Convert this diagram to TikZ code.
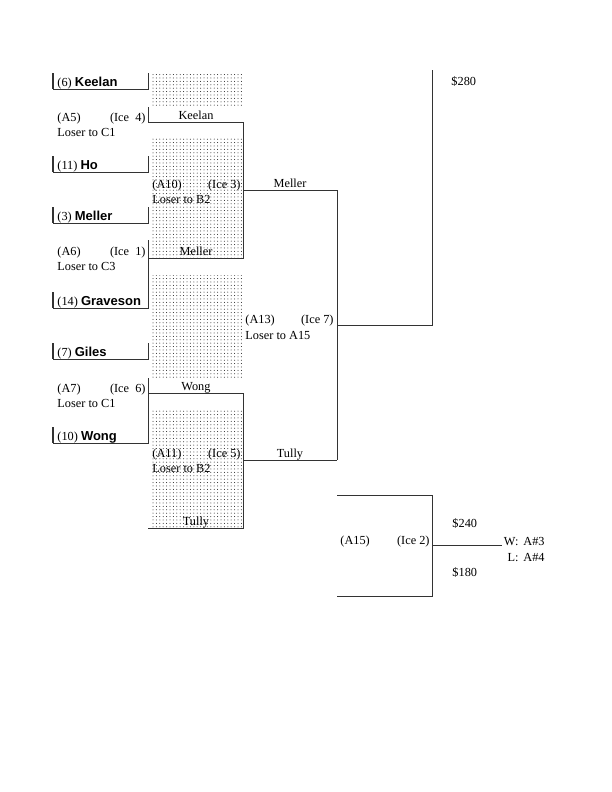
\documentclass[tikz,border=0pt]{standalone}
\usepackage{fontspec}
\setmainfont{Liberation Serif}
\newfontfamily\namefont{Liberation Sans}
\usetikzlibrary{patterns}

% sparse dot stipple
\pgfdeclarepatternformonly{stipple}{\pgfqpoint{-1pt}{-1pt}}{\pgfqpoint{1pt}{1pt}}{\pgfqpoint{3.4pt}{3.4pt}}{%
  \pgfpathcircle{\pgfqpoint{0pt}{0pt}}{0.5pt}\pgfusepath{fill}}

\begin{document}
\begin{tikzpicture}[x=1pt, y=-1pt, font=\fontsize{12.3}{14}\selectfont,
    line width=0.9pt, black!80,
    lab/.style={anchor=base west, inner sep=0pt, text=black},
    labr/.style={anchor=base east, inner sep=0pt, text=black},
    labc/.style={anchor=base, inner sep=0pt, text=black}]
  \useasboundingbox (0,0) rectangle (612,792);
  % stippled areas
  \foreach \t/\b in {73/107, 138/258, 275/379, 409/527}
    \fill[pattern=stipple, pattern color=black!90] (151,\t) rectangle (242,\b);
  % first round slots
  \foreach \y/\s/\n in {89/6/Keelan, 172/11/Ho, 223/3/Meller, 308/14/Graveson, 359/7/Giles, 443/10/Wong} {
    \draw[line width=1.3pt] (53,\y-16) -- (53,\y);
    \draw (53,\y) -- (148,\y) -- (148,\y-16);
    \node[lab] (seed\s) at (57,\y-3) {(\s) {\fontsize{13}{15}\selectfont\namefont\bfseries \n}};
  }
  \foreach \y/\g/\i/\l in {121/A5/4/C1, 255/A6/1/C3, 392/A7/6/C1} {
    \node[lab] (game\g) at (57,\y) {(\g)};
    \node[labr] (ice\g) at (146,\y) {(Ice\ \ \i)};
    \node[lab] (lose\g) at (57,\y+15.5) {Loser to \l};
  }
  \draw (148,107) -- (148,122);
  \draw (148,240) -- (148,308);
  \draw (148,378) -- (148,443);
  % second round
  \draw (148,122) -- (243,122) -- (243,258) -- (148,258);
  \draw (148,393) -- (243,393) -- (243,528) -- (148,528);
  \draw (243,190) -- (337,190);
  \draw (243,460) -- (337,460);
  \foreach \y/\n in {122/Keelan, 258/Meller, 393/Wong, 528/Tully}
    \node[labc] (win\n\y) at (196,\y-2.5) {\n};
  \foreach \y/\g/\i in {188/A10/3, 457/A11/5} {
    \node[lab] (game\g) at (152,\y) {(\g)};
    \node[labr] (ice\g) at (241,\y) {(Ice \i)};
    \node[lab] (lose\g) at (152,\y+15.5) {Loser to B2};
  }
  % third round
  \draw (337,190) -- (337,460);
  \draw (337,325) -- (432,325) -- (432,70);
  \node[labc] (semiMeller) at (290,187.5) {Meller};
  \node[labc] (semiTully) at (290,457.5) {Tully};
  \node[lab] (gameA13) at (245,323) {(A13)};
  \node[labr] (iceA13) at (334,323) {(Ice 7)};
  \node[lab] (loseA13) at (245,339.5) {Loser to A15};
  \node[lab] (prize1) at (451,85) {\$280};
  % A15
  \draw (337,495) -- (432,495) -- (432,596) -- (337,596);
  \draw (432,545) -- (502,545);
  \node[lab] (gameA15) at (340,544) {(A15)};
  \node[labr] (iceA15) at (430,544) {(Ice 2)};
  \node[lab] (prize2) at (452,527) {\$240};
  \node[lab] (prize3) at (452,576) {\$180};
  \node[labr] (wkey) at (519,545) {W:};
  \node[lab] (wto) at (523,545) {A\#3};
  \node[labr] (lkey) at (519,561) {L:};
  \node[lab] (lto) at (523,561) {A\#4};
\end{tikzpicture}
\end{document}
